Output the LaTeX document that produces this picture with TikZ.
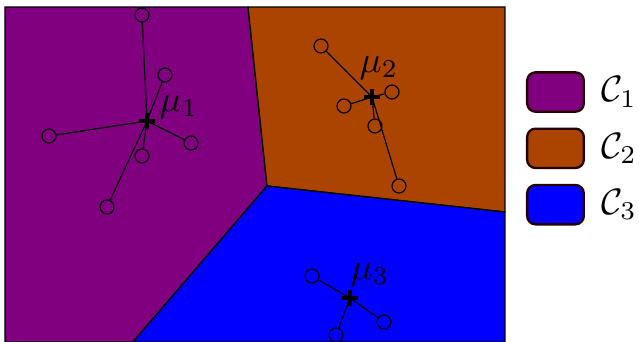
\documentclass[tikz,border=0pt]{standalone}
\usepackage{amsmath}
\usepackage{xcolor}
\usetikzlibrary{positioning}

\definecolor{clusterA}{RGB}{128,0,128}
\definecolor{clusterB}{RGB}{170,68,0}
\definecolor{clusterC}{RGB}{0,0,255}

\tikzset{
  sample/.style={circle, draw, inner sep=0pt, minimum size=4.2pt, line width=0.35pt},
  link/.style={line width=0.35pt},
  region/.style={draw=black, line width=0.4pt},
  label/.style={scale=1.1},
  legendbox/.style={draw=black!85!red, line width=0.7pt, rounded corners=2.5pt,
    minimum width=17pt, minimum height=11.8pt, inner sep=0pt},
  legendtext/.style={right=4.6pt of #1, inner sep=0pt, scale=1.1}
}

\newcommand{\centroidmark}[1]{%
  \draw[line width=1.1pt] (#1) ++(-8,0) -- ++(16,0) (#1) ++(0,-8) -- ++(0,16);}

\begin{document}
\begin{tikzpicture}[x=0.3pt, y=-0.3pt] % one unit = one pixel of the picture
    \useasboundingbox (0,0) rectangle (639,342);

    % Regions
    \fill[clusterA, region] (5,7) -- (248,7) -- (267,186) -- (133,342) -- (5,342) -- cycle;
    \fill[clusterB, region] (248,7) -- (505,7) -- (505,212) -- (267,186) -- cycle;
    \fill[clusterC, region] (267,186) -- (505,212) -- (505,342) -- (133,342) -- cycle;

    % Cluster 1
    \coordinate (m1) at (147,121);
    \node[sample] (a1) at (142,15) {};
    \node[sample] (a2) at (165,75) {};
    \node[sample] (a3) at (49,136) {};
    \node[sample] (a4) at (191,143) {};
    \node[sample] (a5) at (142,156) {};
    \node[sample] (a6) at (107,207) {};
    \foreach \i in {1,...,6} \draw[link] (m1) -- (a\i);
    \centroidmark{m1}
    \node[label] (l1) at (179,107) {$\mu_1$};

    % Cluster 2
    \coordinate (m2) at (372,97);
    \node[sample] (b1) at (321,46) {};
    \node[sample] (b2) at (392,92) {};
    \node[sample] (b3) at (344,106) {};
    \node[sample] (b4) at (375,126) {};
    \node[sample] (b5) at (399,186) {};
    \foreach \i in {1,...,5} \draw[link] (m2) -- (b\i);
    \centroidmark{m2}
    \node[label] (l2) at (379,68) {$\mu_2$};

    % Cluster 3
    \coordinate (m3) at (350,298);
    \node[sample] (c1) at (312,276) {};
    \node[sample] (c2) at (384,322) {};
    \node[sample] (c3) at (336,335) {};
    \foreach \i in {1,...,3} \draw[link] (m3) -- (c\i);
    \centroidmark{m3}
    \node[label] (l3) at (370,275) {$\mu_3$};

    % Legend
    \node[legendbox, fill=clusterA] (k1) at (555.5,92) {};
    \node[legendbox, fill=clusterB, below=4.4pt of k1] (k2) {};
    \node[legendbox, fill=clusterC, below=4.4pt of k2] (k3) {};
    \node[legendtext=k1] (t1) {$\mathcal{C}_1$};
    \node[legendtext=k2] (t2) {$\mathcal{C}_2$};
    \node[legendtext=k3] (t3) {$\mathcal{C}_3$};
\end{tikzpicture}
\end{document}
